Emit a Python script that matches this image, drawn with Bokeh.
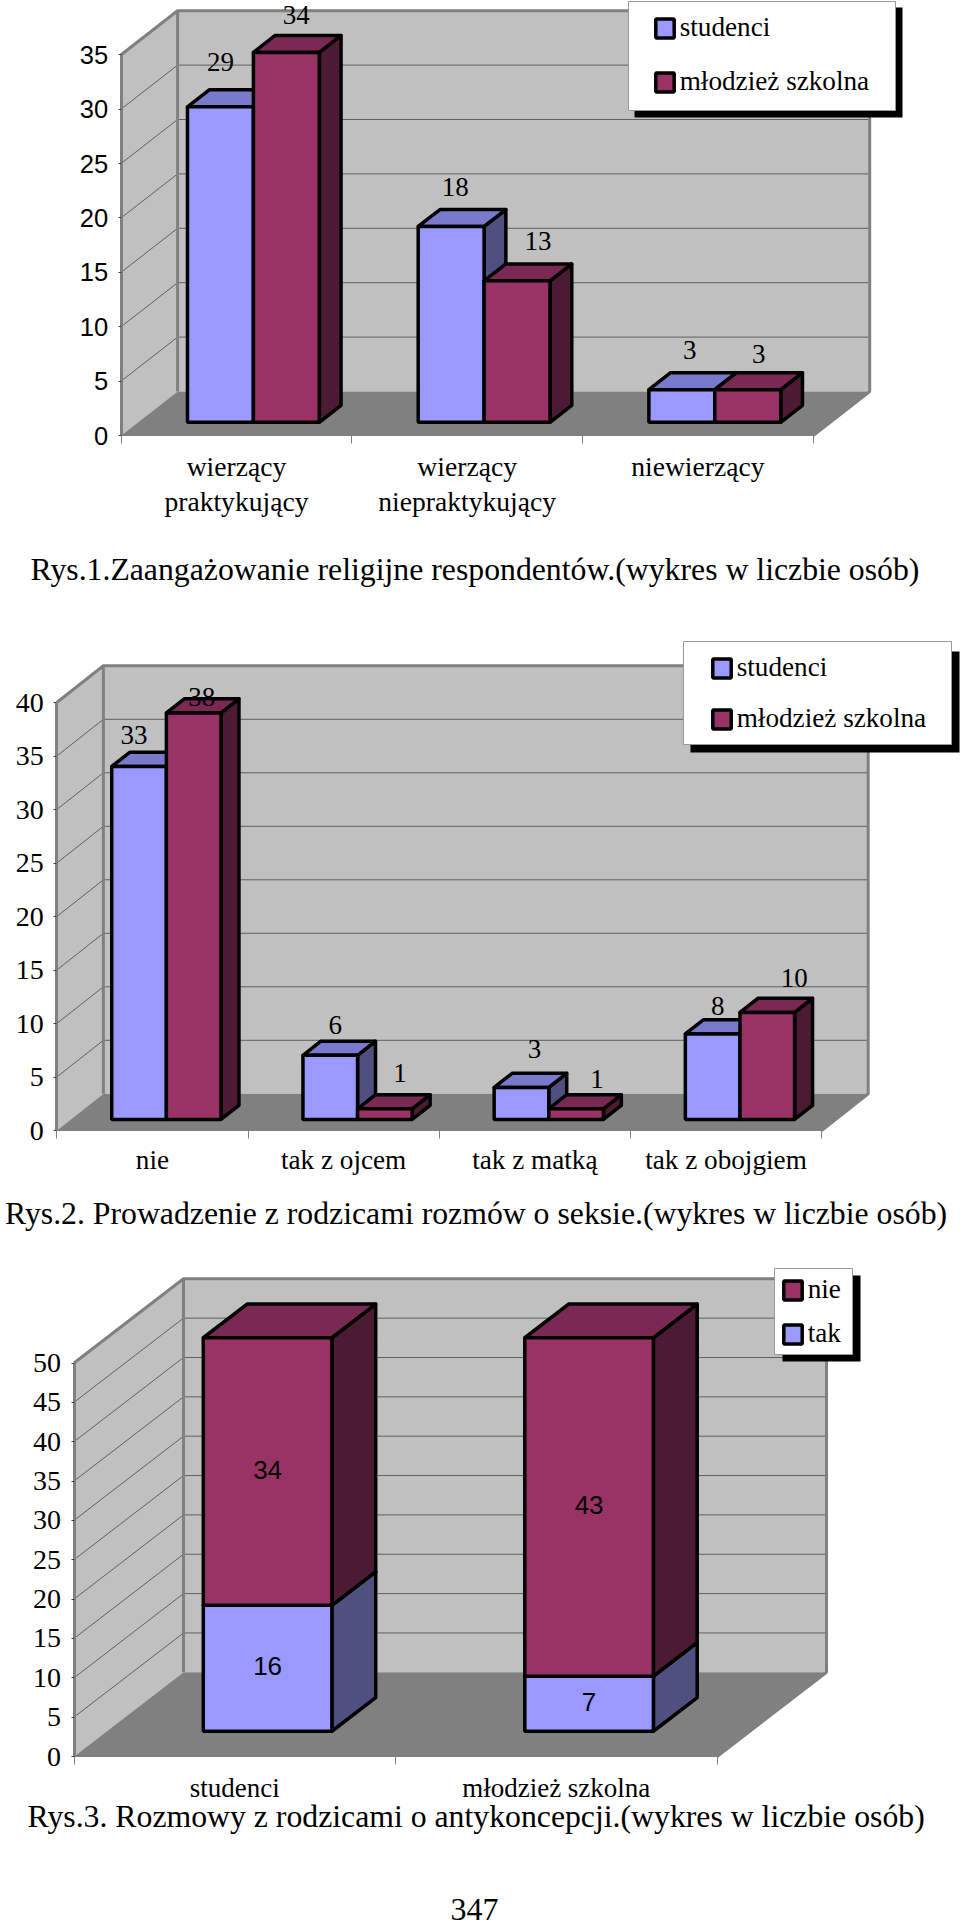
from bokeh.plotting import figure
from bokeh.layouts import column
from bokeh.models import Range1d, FixedTicker, Legend, LegendItem, Label, ColumnDataSource
from bokeh.core.properties import value
from bokeh.embed import file_html
from bokeh.resources import INLINE

SERIF = "Liberation Serif"
SANS = "Liberation Sans"

# --- data -------------------------------------------------------------
cats1 = ["wierzący\npraktykujący", "wierzący\nniepraktykujący", "niewierzący"]
studenci1 = [29, 18, 3]
mlodziez1 = [34, 13, 3]
ticks1 = [0, 5, 10, 15, 20, 25, 30, 35]
caption1 = "Rys.1.Zaangażowanie religijne respondentów.(wykres w liczbie osób)"

cats2 = ["nie", "tak z ojcem", "tak z matką", "tak z obojgiem"]
studenci2 = [33, 6, 3, 8]
mlodziez2 = [38, 1, 1, 10]
ticks2 = [0, 5, 10, 15, 20, 25, 30, 35, 40]
caption2 = "Rys.2. Prowadzenie z rodzicami rozmów o seksie.(wykres w liczbie osób)"

cats3 = ["studenci", "młodzież szkolna"]
tak3 = [16, 7]
nie3 = [34, 43]
ticks3 = [0, 5, 10, 15, 20, 25, 30, 35, 40, 45, 50]
caption3 = "Rys.3. Rozmowy z rodzicami o antykoncepcji.(wykres w liczbie osób)"
page_number = "347"

# --- colours ----------------------------------------------------------
WALL, FLOOR, EDGE, GRID = "#C0C0C0", "#808080", "#808080", "#606060"
BLUE = ("#9999FF", "#7A7ACC", "#4F4F80")   # front, top, side
WINE = ("#993366", "#7A2952", "#4D1A33")
BAR_LINE = 3.5


class Chart:
    """Excel-style 3-D chart: a front plane in category/value units plus a depth offset."""

    def __init__(self, top, height, left, base, cat_w, unit, depth_px, ticks, cats, tick_font, cat_size, cat_standoff):
        self.top, self.height, self.left, self.base, self.cat_w, self.unit = top, height, left, base, cat_w, unit
        self.dx, self.dy = depth_px[0] / cat_w, depth_px[1] / unit
        self.n = len(cats)
        self.vmax = ticks[-1]
        p = figure(width=960, height=height, output_backend="svg", toolbar_location=None,
                   x_range=Range1d(-left / cat_w, (960 - left) / cat_w),
                   y_range=Range1d(-(top + height - base) / unit, (base - top) / unit),
                   min_border=0, outline_line_color=None)
        p.grid.visible = False
        self.p = p
        xa, ya = p.xaxis[0], p.yaxis[0]
        xa.fixed_location = 0
        ya.fixed_location = 0
        ya.ticker = FixedTicker(ticks=ticks)
        ya.bounds = (0, ticks[-1])
        ya.axis_line_color, ya.axis_line_width = EDGE, 3
        ya.major_tick_line_color, ya.major_tick_out, ya.major_tick_in = "#404040", 3, 0
        ya.minor_tick_line_color = None
        ya.major_label_text_font = tick_font[0]
        ya.major_label_text_font_size = tick_font[1]
        ya.major_label_text_color = "black"
        ya.major_label_standoff = 10
        centres = [i + 0.5 for i in range(self.n)]
        xa.ticker = FixedTicker(ticks=centres, minor_ticks=list(range(self.n + 1)))
        xa.major_label_overrides = dict(zip(centres, cats))
        xa.bounds = (0, self.n)
        xa.axis_line_color = EDGE
        xa.major_tick_line_color = None
        xa.minor_tick_line_color, xa.minor_tick_out, xa.minor_tick_in = EDGE, 8, 0
        xa.major_label_text_font = SERIF
        xa.major_label_text_font_size = cat_size
        xa.major_label_text_color = "black"
        xa.major_label_text_line_height = 1.15
        xa.major_label_standoff = cat_standoff
        self._walls(ticks)

    def px(self, x):
        return (x - self.left) / self.cat_w

    def py(self, y):
        return (self.base - y) / self.unit

    def _walls(self, ticks):
        p, n, vm, dx, dy = self.p, self.n, self.vmax, self.dx, self.dy
        p.patch([0, dx, dx, 0], [0, dy, vm + dy, vm], fill_color=WALL, line_color=None)
        p.patch([dx, n + dx, n + dx, dx], [dy, dy, vm + dy, vm + dy], fill_color=WALL, line_color=None)
        p.patch([0, n, n + dx, dx], [0, 0, dy, dy], fill_color=FLOOR, line_color=None)
        inner = [t for t in ticks if 0 < t < vm]
        p.segment(x0=[dx] * len(inner), y0=[t + dy for t in inner], x1=[n + dx] * len(inner),
                  y1=[t + dy for t in inner], line_color=GRID, line_width=1)
        p.segment(x0=[0] * len(inner), y0=inner, x1=[dx] * len(inner),
                  y1=[t + dy for t in inner], line_color=GRID, line_width=1)
        p.line([0, dx, n + dx, n + dx, n], [vm, vm + dy, vm + dy, dy, 0], line_color=EDGE, line_width=3)
        p.line([dx, dx], [dy, vm + dy], line_color=EDGE, line_width=3)

    def bars(self, x0s, x1s, low, high, colours, start=0.3, depth=0.385):
        """One series: draws side and top faces, then the front."""
        dx, dy = self.dx * depth, self.dy * depth
        ox, oy = self.dx * start, self.dy * start
        xl = [x + ox for x in x0s]
        xr = [x + ox for x in x1s]
        yb = [y + oy for y in low]
        yt = [y + oy for y in high]
        src = dict(xl=xl, xr=xr, yb=yb, yt=yt)
        side_x = [[r, r + dx, r + dx, r] for r in xr]
        side_y = [[b, b + dy, t + dy, t] for b, t in zip(yb, yt)]
        top_x = [[l, l + dx, r + dx, r] for l, r in zip(xl, xr)]
        top_y = [[t, t + dy, t + dy, t] for t in yt]
        self.p.patches(side_x, side_y, fill_color=colours[2], line_color="black", line_width=BAR_LINE, line_join="round")
        self.p.patches(top_x, top_y, fill_color=colours[1], line_color="black", line_width=BAR_LINE, line_join="round")
        return self.p.quad(left="xl", right="xr", bottom="yb", top="yt", source=ColumnDataSource(src),
                           fill_color=colours[0], line_color="black", line_width=BAR_LINE)

    def legend(self, box, shadow, swatch_xy, items, pitch, size="27.2px"):
        """Panel, shadow and a real bokeh Legend."""
        px, py = self.px, self.py
        self.p.quad(left=[px(shadow[0])], right=[px(shadow[1])], top=[py(shadow[2])], bottom=[py(shadow[3])],
                    fill_color="black", line_color=None)
        self.p.quad(left=[px(box[0])], right=[px(box[1])], top=[py(box[2])], bottom=[py(box[3])],
                    fill_color="white", line_color="#999999", line_width=1)
        h = 31
        n = len(items)
        top_page = swatch_xy[1] - 2.4 - 3.5
        leg = Legend(items=[LegendItem(label=t, renderers=[r]) for t, r in items],
                     location=(swatch_xy[0] - 2.3, self.top + self.height - (top_page + (n - 1) * pitch + h)),
                     padding=0, margin=0, spacing=pitch - h, glyph_width=23, glyph_height=24, label_height=h,
                     label_standoff=4, label_text_font=SERIF, label_text_font_size=size,
                     label_text_baseline="middle", label_text_color="black",
                     background_fill_alpha=0, border_line_color=None)
        self.p.add_layout(leg)

    def labels(self, xs, ys, texts, font, nudge_x, rise, size="27px"):
        self.p.text(x=xs, y=ys, text=[str(t) for t in texts], text_font=value(font), text_font_size=size,
                    text_align="center", text_baseline="middle", text_color="black",
                    x_offset=nudge_x, y_offset=[-r for r in rise])

    def caption(self, text, x, y, size="31.75px", font=SERIF):
        self.p.add_layout(Label(x=self.px(x), y=self.py(y), text=text, text_font=font, text_font_size=size,
                                text_baseline="middle", text_color="black"))


def clustered(ch, s1, s2, nudge1, rise1, nudge2, rise2):
    w = 2 / 7
    gap = (1 - 2 * w) / 2
    n = len(s1)
    zero = [0] * n
    x0 = [i + gap for i in range(n)]
    x1 = [i + gap + w for i in range(n)]
    x2 = [i + gap + 2 * w for i in range(n)]
    r1 = ch.bars(x0, x1, zero, s1, BLUE)
    r2 = ch.bars(x1, x2, zero, s2, WINE)
    oy = ch.dy * 0.3
    ox = ch.dx * 0.3
    ch.labels([x + w / 2 + ox for x in x0], [v + oy for v in s1], s1, SERIF, nudge1, rise1)
    ch.labels([x + w / 2 + ox for x in x1], [v + oy for v in s2], s2, SERIF, nudge2, rise2)
    return r1, r2


# --- chart 1 ----------------------------------------------------------
c1 = Chart(top=0, height=620, left=120.6, base=435, cat_w=230.7, unit=10.88, depth_px=(56.5, 44),
           ticks=ticks1, cats=cats1, tick_font=(SANS, "25.5px"), cat_size="27.6px", cat_standoff=7)
r1, r2 = clustered(c1, studenci1, mlodziez1, [0, 4, 8], [45, 39, 40], [10, 21, 11], [37, 40, 36])
c1.legend((628, 895, 1, 110), (634, 902, 7, 117), (655, 18), [("studenci", r1), ("młodzież szkolna", r2)], 54)
c1.caption(caption1, 30, 569)

# --- chart 2 ----------------------------------------------------------
c2 = Chart(top=620, height=630, left=56.3, base=1130, cat_w=191.2, unit=10.7, depth_px=(46.6, 36.7),
           ticks=ticks2, cats=cats2, tick_font=(SERIF, "28px"), cat_size="27.2px", cat_standoff=6)
r1, r2 = clustered(c2, studenci2, mlodziez2, [-5, 5, 13, 5], [31, 30, 38, 28], [8, 15, 21, 27], [16, 36, 30, 34])
c2.legend((683, 951, 641, 744), (690, 959, 651, 752), (712, 658), [("studenci", r1), ("młodzież szkolna", r2)], 51)
c2.caption(caption2, 4.5, 1213)

# --- chart 3 ----------------------------------------------------------
c3 = Chart(top=1250, height=677, left=73.5, base=1756, cat_w=321.5, unit=7.87, depth_px=(109.5, 84.2),
           ticks=ticks3, cats=cats3, tick_font=(SERIF, "28px"), cat_size="27px", cat_standoff=8)
x0 = [i + 0.3 for i in range(2)]
x1 = [i + 0.7 for i in range(2)]
tops3 = [a + b for a, b in zip(tak3, nie3)]
rt = c3.bars(x0, x1, [0, 0], tak3, BLUE, depth=0.4)
rn = c3.bars(x0, x1, tak3, tops3, WINE, depth=0.4)
ox, oy = c3.dx * 0.3, c3.dy * 0.3
mid = [0.5 + ox, 1.5 + ox]
c3.labels(mid, [v / 2 + oy for v in tak3], tak3, SANS, [0, 0], [2, 2], size="26px")
c3.labels(mid, [a + b / 2 + oy for a, b in zip(tak3, nie3)], nie3, SANS, [0, 0], [2, 2], size="26px")
c3.legend((774, 852, 1268, 1354), (782, 860, 1275, 1361), (783, 1280), [("nie", rn), ("tak", rt)], 44)
c3.caption(caption3, 27, 1815.6)
c3.caption(page_number, 450, 1908.5, size="32px")

page = column(c1.p, c2.p, c3.p, spacing=0, styles={"position": "absolute", "left": "0", "top": "0"})
open("out.html", "w").write(file_html(page, INLINE))
